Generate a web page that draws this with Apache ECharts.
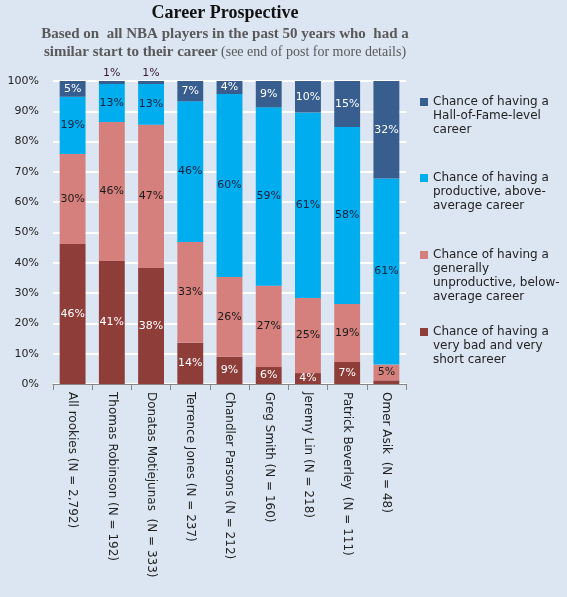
<!DOCTYPE html>
<html><head><meta charset="utf-8">
<script src="https://cdn.jsdelivr.net/npm/echarts@6/dist/echarts.min.js"></script>
<style>html,body{margin:0;padding:0;background:#DCE6F2;}#c{width:567px;height:597px;}</style>
</head><body><div id="c"></div>
<script>
var categories = ['All rookies (N = 2,792)','Thomas Robinson (N = 192)','Donatas Motiejunas  (N = 333)','Terrence Jones (N = 237)','Chandler Parsons (N = 212)','Greg Smith (N = 160)','Jeremy Lin (N = 218)','Patrick Beverley  (N = 111)','Omer Asik  (N = 48)'];
var veryBad     = [46.2, 40.6, 38.3, 13.6,  9.0,  5.6,  3.6,  7.3,  1.2];
var belowAvg    = [29.7, 45.9, 47.3, 33.3, 26.3, 26.8, 24.8, 19.1,  5.2];
var productive  = [18.9, 12.5, 13.4, 46.4, 60.4, 58.9, 61.2, 58.4, 61.4];
var hallOfFame  = [ 5.2,  1.0,  1.0,  6.7,  4.3,  8.7, 10.4, 15.2, 32.2];
var yTicks = [0,10,20,30,40,50,60,70,80,90,100];

var names = {
  hof: 'Chance of having a Hall-of-Fame-level career',
  prod: 'Chance of having a productive, above-average career',
  below: 'Chance of having a generally unproductive, below-average career',
  bad: 'Chance of having a very bad and very short career'
};
var legendText = {};
legendText[names.hof] = 'Chance of having a\nHall-of-Fame-level\ncareer';
legendText[names.prod] = 'Chance of having a\nproductive, above-\naverage career';
legendText[names.below] = 'Chance of having a\ngenerally\nunproductive, below-\naverage career';
legendText[names.bad] = 'Chance of having a\nvery bad and very\nshort career';

var FONT = 'DejaVu Sans';
function fmt(p){ return Math.round(p.value) + '%'; }
function mkData(arr, kind){
  return arr.map(function(v){
    var d = {value: v};
    if (kind === 'bad' && v < 2) d.label = {show:false};
    if (kind === 'hof' && v < 2) d.label = {position:'top', color:'#3a1838', distance:2};
    return d;
  });
}
function series(name, arr, color, labelColor, kind){
  return {
    name: name, type: 'bar', stack: 'all', barCategoryGap: '34%',
    data: mkData(arr, kind),
    itemStyle: {color: color},
    label: {show:true, position:'inside', formatter: fmt, color: labelColor, fontFamily: FONT, fontSize: 11},
    emphasis: {disabled: true}
  };
}
function legendIcon(lines){
  var h = lines*14;
  return 'path://M0,0M0,' + h + 'M0,3h8v8h-8z';
}
function legend(name, top, lines){
  return {
    orient:'vertical', left: 420, top: top, padding: 0,
    itemWidth: 8, itemHeight: lines*14, itemGap: 0,
    data: [{name: name, icon: legendIcon(lines)}],
    formatter: function(n){ return legendText[n]; },
    textStyle: {fontFamily: FONT, fontSize: 12, lineHeight: 14, color:'#222'},
    selectedMode: false
  };
}

var chart = echarts.init(document.getElementById('c'));
chart.setOption({
  backgroundColor: '#DCE6F2',
  animation: false,
  graphic: [
    {type:'text', position:[0,0], style:{text:'Career Prospective', x:225, y:4, align:'center', font:'bold 18px "Liberation Serif"', fill:'#111'}},
    {type:'text', position:[0,0], style:{text:'Based on  all NBA players in the past 50 years who  had a', x:225, y:27, align:'center', font:'bold 15px "Liberation Serif"', fill:'#595959'}},
    {type:'text', position:[0,0], style:{rich:{b:{font:'bold 15px "Liberation Serif"', fill:'#595959'}, n:{font:'14px "Liberation Serif"', fill:'#595959'}}, text:'{b|similar start to their career} {n|(see end of post for more details)}', x:225, y:45, align:'center'}}
  ],
  grid: {left: 53, right: 161, top: 81, bottom: 213, containLabel: false},
  legend: [
    legend(names.hof, 95, 3),
    legend(names.prod, 171, 3),
    legend(names.below, 248, 4),
    legend(names.bad, 325, 3)
  ],
  xAxis: {
    type: 'category', data: categories,
    axisLine: {show:true, lineStyle:{color:'#868686', width:1}},
    axisTick: {show:true, length:6, lineStyle:{color:'#868686'}},
    axisLabel: {rotate: -90, interval: 0, fontFamily: FONT, fontSize: 12, color:'#222', margin: 8}
  },
  yAxis: {
    type: 'value', min: 0, max: 100, interval: 10,
    axisLine: {show:false}, axisTick: {show:false},
    splitLine: {show:true, lineStyle:{color:'#ffffff', width:2}},
    axisLabel: {formatter: function(v){ return v + '%'; }, fontFamily: FONT, fontSize: 11, color:'#222', margin: 14}
  },
  series: [
    series(names.bad, veryBad, '#8E3D39', '#ffffff', 'bad'),
    series(names.below, belowAvg, '#D5807C', '#1a1a1a', 'below'),
    series(names.prod, productive, '#00ADEE', '#14213d', 'prod'),
    series(names.hof, hallOfFame, '#385D8F', '#ffffff', 'hof')
  ]
});
</script></body></html>
